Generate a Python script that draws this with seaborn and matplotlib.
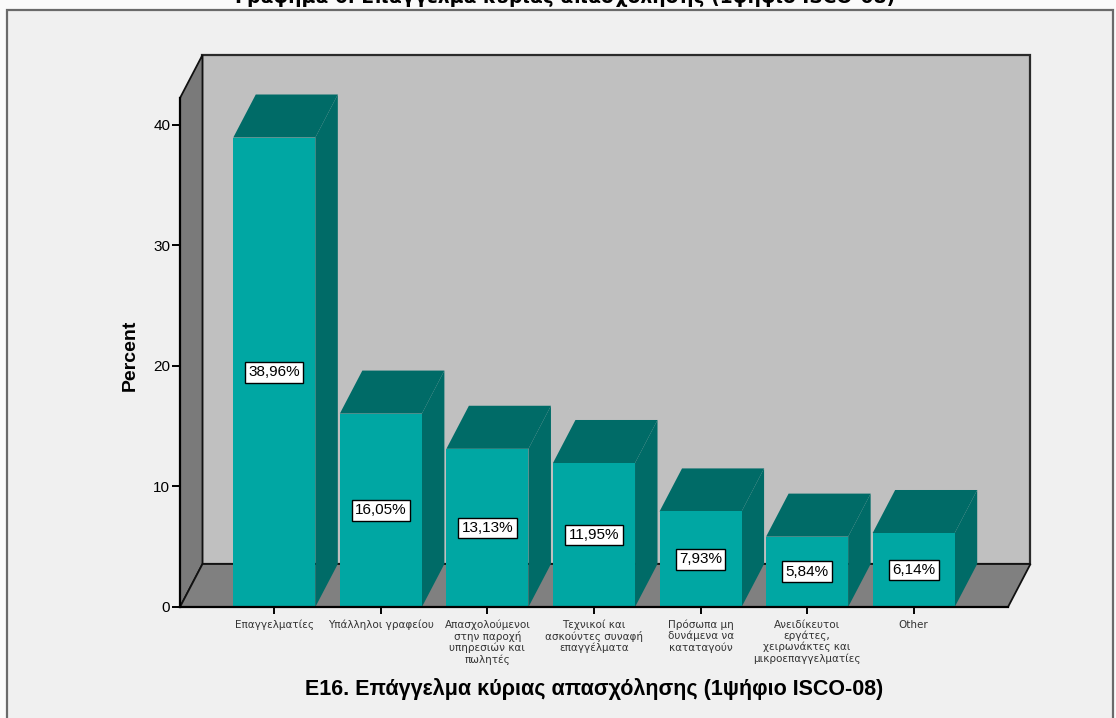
import matplotlib
matplotlib.use("Agg")
import matplotlib.pyplot as plt
import seaborn as sns
import pandas as pd
from matplotlib.patches import Polygon, Rectangle

# ---------------- data ----------------
categories = [
    "Επαγγελματίες",
    "Υπάλληλοι γραφείου",
    "Απασχολούμενοι\nστην παροχή\nυπηρεσιών και\nπωλητές",
    "Τεχνικοί και\nασκούντες συναφή\nεπαγγέλματα",
    "Πρόσωπα μη\nδυνάμενα να\nκαταταγούν",
    "Ανειδίκευτοι\nεργάτες,\nχειρωνάκτες και\nμικροεπαγγελματίες",
    "Other",
]
percent = [38.96, 16.05, 13.13, 11.95, 7.93, 5.84, 6.14]
y_ticks = [0, 10, 20, 30, 40]
title = "Γράφημα 6. Επάγγελμα κύριας απασχόλησης (1ψήφιο ISCO-08)"
x_title = "Ε16. Επάγγελμα κύριας απασχόλησης (1ψήφιο ISCO-08)"
y_title = "Percent"

# ---------------- style ----------------
FRONT = "#00a7a3"
DARK = "#006b67"
WALL = "#c0c0c0"
SIDE = "#7a7a7a"
FLOOR = "#808080"
BG = "#f0f0f0"

W, H = 1116, 718
fig = plt.figure(figsize=(W / 100, H / 100), dpi=100, facecolor="#fafafa")
frame = Rectangle((7 / W, -0.02), (1113 - 7) / W, 1.02 - 10 / H,
                  transform=fig.transFigure, facecolor=BG,
                  edgecolor="#6a6a6a", lw=1.6)
frame.set_zorder(-10)
fig.add_artist(frame)

ax = fig.add_axes([180 / W, 1 - 607 / H, 828 / W, 509 / H])
ax.set_facecolor("none")
ax.set_zorder(1)

df = pd.DataFrame({"cat": categories, "pct": percent})
sns.barplot(data=df, x="cat", y="pct", color=FRONT, saturation=1, width=0.77,
            ax=ax, edgecolor="none", linewidth=0)

x0, x1 = -0.885, 6.885
ytop = 42.24
dx, dy = 0.211, 3.57
ax.set_xlim(x0, x1)
ax.set_ylim(0, ytop)

# 3D walls
ax.add_patch(Rectangle((x0 + dx, dy), x1 - x0, ytop, facecolor=WALL,
                       edgecolor="#2a2a2a", lw=1.6, clip_on=False, zorder=0.5))
ax.add_patch(Polygon([(x0, 0), (x0, ytop), (x0 + dx, ytop + dy), (x0 + dx, dy)],
                     closed=True, facecolor=SIDE, edgecolor="#111111", lw=1.3,
                     clip_on=False, zorder=0.6))
ax.add_patch(Polygon([(x0, 0), (x1, 0), (x1 + dx, dy), (x0 + dx, dy)],
                     closed=True, facecolor=FLOOR, edgecolor="#111111", lw=1.3,
                     clip_on=False, zorder=0.6))

# bar depth faces
bars = list(ax.containers[0])
for p in bars:
    x, w, h = p.get_x(), p.get_width(), p.get_height()
    ax.add_patch(Polygon([(x, h), (x + w, h), (x + w + dx, h + dy), (x + dx, h + dy)],
                         closed=True, facecolor=DARK, edgecolor="none",
                         clip_on=False, zorder=1.5))
    ax.add_patch(Polygon([(x + w, 0), (x + w, h), (x + w + dx, h + dy), (x + w + dx, dy)],
                         closed=True, facecolor=DARK, edgecolor="none",
                         clip_on=False, zorder=1.5))
    p.set_zorder(2)

labels = [f"{v:.2f}".replace(".", ",") + "%" for v in percent]
txts = ax.bar_label(ax.containers[0], labels=labels, label_type="center",
                    fontsize=11, family="Liberation Sans", color="black",
                    bbox=dict(boxstyle="square,pad=0.22", fc="white", ec="black", lw=1))
for t in txts:
    t.set_zorder(4)

# axes / spines
for s in ["top", "right"]:
    ax.spines[s].set_visible(False)
for s in ["left", "bottom"]:
    ax.spines[s].set_color("black")
    ax.spines[s].set_linewidth(1.6)
    ax.spines[s].set_zorder(3)

ax.set_yticks(y_ticks)
ax.set_yticklabels([str(v) for v in y_ticks])
ax.tick_params(axis="y", length=6, width=1.4, pad=1, labelsize=11, colors="black")
ax.tick_params(axis="x", length=5, width=1.4, pad=4, labelsize=7.5,
               labelcolor="#333333", color="black")
for t in ax.get_yticklabels():
    t.set_fontfamily("Liberation Sans")
for t in ax.get_xticklabels():
    t.set_fontfamily("DejaVu Sans")
    t.set_linespacing(1.1)

ax.set_ylabel(y_title, fontsize=14, fontweight="bold", family="Liberation Sans")
ax.yaxis.set_label_coords(-0.05, 0.495)
ax.set_xlabel(x_title, fontsize=15.5, fontweight="bold", family="Liberation Sans")
ax.xaxis.set_label_coords(0.5, -0.14)

fig.text(565 / W, 1 - 3 / H, title, ha="center", va="baseline", fontsize=13.5,
         fontweight="bold", family="DejaVu Sans")

fig.savefig("out.png", dpi=100, facecolor=fig.get_facecolor())
